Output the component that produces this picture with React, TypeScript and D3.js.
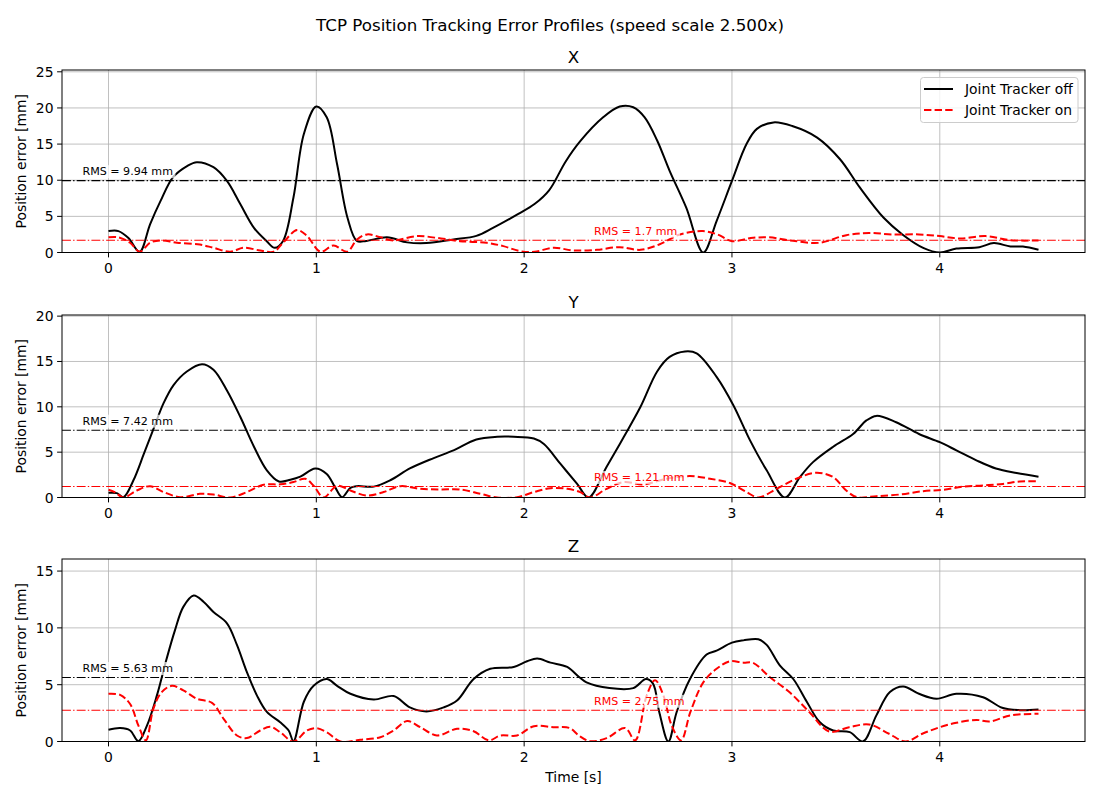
import React from "react";
import * as d3 from "d3";

// ---- data (time [s], error [mm]) ----
const xOffT = [0, 0.048, 0.096, 0.15, 0.2, 0.25, 0.31, 0.38, 0.425, 0.505, 0.57, 0.634, 0.7, 0.76, 0.8, 0.84, 0.89, 0.94, 1.0, 1.05, 1.1, 1.15, 1.195, 1.24, 1.34, 1.437, 1.53, 1.66, 1.77, 1.85, 1.97, 2.05, 2.12, 2.2, 2.27, 2.38, 2.46, 2.525, 2.58, 2.64, 2.7, 2.78, 2.862, 2.926, 3.0, 3.07, 3.12, 3.2, 3.29, 3.41, 3.52, 3.615, 3.73, 3.82, 3.92, 4.0, 4.08, 4.19, 4.26, 4.34, 4.4, 4.475];
const xOffV = [2.96, 2.96, 2.0, 0.1, 3.9, 7.1, 10.4, 12.0, 12.5, 11.8, 9.9, 6.7, 3.4, 1.6, 0.65, 1.6, 7.6, 16.4, 20.2, 18.7, 12.2, 4.8, 1.6, 1.6, 2.1, 1.4, 1.3, 1.8, 2.3, 3.4, 5.3, 6.7, 8.6, 12.6, 15.4, 18.7, 20.2, 20.1, 18.7, 15.5, 11.3, 6.2, 0, 4.35, 9.9, 15.0, 17.1, 18.0, 17.5, 15.9, 12.9, 9.0, 4.8, 2.5, 0.65, 0, 0.55, 0.74, 1.3, 0.83, 0.83, 0.37];
const xOnT = [0, 0.048, 0.104, 0.15, 0.2, 0.25, 0.33, 0.44, 0.505, 0.585, 0.65, 0.73, 0.795, 0.84, 0.907, 0.955, 1.02, 1.083, 1.148, 1.196, 1.244, 1.31, 1.37, 1.485, 1.6, 1.69, 1.82, 1.9, 1.98, 2.05, 2.14, 2.24, 2.35, 2.46, 2.56, 2.65, 2.75, 2.86, 2.93, 3.0, 3.09, 3.18, 3.28, 3.42, 3.55, 3.66, 3.77, 3.9, 4.0, 4.1, 4.22, 4.34, 4.475];
const xOnV = [2.1, 2.1, 1.35, 0.1, 1.35, 1.67, 1.35, 1.1, 0.65, 0.1, 0.65, 0.28, 0.1, 1.35, 3.1, 2.3, 0.1, 0.97, 0.1, 1.8, 2.5, 2.1, 1.67, 2.27, 1.94, 1.57, 1.34, 0.88, 0.19, 0.1, 0.65, 0.28, 0.37, 0.74, 0.37, 1.1, 2.5, 2.96, 2.5, 1.57, 2.0, 2.1, 1.67, 1.34, 2.4, 2.7, 2.5, 2.5, 2.27, 1.94, 2.27, 1.7, 1.67];

const yOffT = [0, 0.04, 0.072, 0.12, 0.17, 0.217, 0.265, 0.313, 0.377, 0.45, 0.505, 0.57, 0.634, 0.7, 0.762, 0.82, 0.875, 0.923, 0.995, 1.05, 1.09, 1.124, 1.164, 1.196, 1.276, 1.356, 1.45, 1.565, 1.66, 1.77, 1.87, 1.95, 2.047, 2.095, 2.175, 2.255, 2.31, 2.397, 2.48, 2.56, 2.64, 2.7, 2.774, 2.83, 2.926, 3.006, 3.087, 3.167, 3.255, 3.327, 3.39, 3.487, 3.583, 3.647, 3.695, 3.79, 3.9, 4.0, 4.08, 4.176, 4.27, 4.37, 4.475];
const yOffV = [0.52, 0.48, 0.04, 1.9, 4.8, 7.6, 10.4, 12.4, 13.9, 14.7, 14.1, 11.8, 8.9, 5.6, 3.0, 1.77, 1.96, 2.3, 3.2, 2.6, 1.14, 0.04, 1.07, 1.25, 1.2, 1.9, 3.2, 4.35, 5.2, 6.4, 6.7, 6.7, 6.5, 5.9, 3.7, 1.5, 0, 3.4, 6.7, 10.0, 13.9, 15.5, 16.1, 15.9, 13.3, 10.2, 6.3, 3.0, 0, 2.25, 3.9, 5.6, 7.0, 8.5, 9.0, 8.3, 7.0, 6.1, 5.2, 4.1, 3.2, 2.7, 2.3];
const yOnT = [0, 0.03, 0.072, 0.136, 0.2, 0.265, 0.345, 0.44, 0.505, 0.586, 0.666, 0.746, 0.827, 0.89, 0.947, 0.987, 1.035, 1.1, 1.164, 1.244, 1.324, 1.404, 1.5, 1.6, 1.69, 1.79, 1.87, 1.966, 2.047, 2.127, 2.207, 2.27, 2.317, 2.397, 2.477, 2.574, 2.686, 2.798, 2.894, 2.99, 3.07, 3.127, 3.215, 3.31, 3.407, 3.487, 3.55, 3.6, 3.695, 3.808, 3.92, 4.016, 4.11, 4.208, 4.304, 4.385, 4.475];
const yOnV = [0.85, 0.6, 0, 0.77, 1.25, 0.6, 0.04, 0.4, 0.33, 0, 0.6, 1.4, 1.45, 1.7, 2.07, 1.3, 0, 1.3, 0.77, 0.22, 0.6, 1.25, 0.96, 0.89, 0.89, 0.4, 0, 0.04, 0.6, 1.03, 0.96, 0.6, 0, 0.96, 1.7, 1.45, 2.07, 2.36, 2.07, 1.6, 0.6, 0, 0.96, 2.07, 2.73, 2.25, 0.77, 0.04, 0.15, 0.33, 0.7, 0.85, 1.2, 1.33, 1.5, 1.77, 1.8];

const zOffT = [0, 0.056, 0.104, 0.144, 0.185, 0.233, 0.28, 0.32, 0.36, 0.41, 0.457, 0.505, 0.57, 0.618, 0.666, 0.714, 0.762, 0.826, 0.867, 0.89, 0.94, 0.987, 1.05, 1.1, 1.164, 1.276, 1.372, 1.45, 1.53, 1.613, 1.677, 1.757, 1.837, 1.95, 2.014, 2.063, 2.127, 2.207, 2.263, 2.3, 2.41, 2.525, 2.586, 2.62, 2.65, 2.694, 2.734, 2.798, 2.878, 2.926, 3.0, 3.055, 3.127, 3.167, 3.23, 3.295, 3.36, 3.423, 3.487, 3.567, 3.63, 3.695, 3.76, 3.824, 3.9, 3.984, 4.08, 4.208, 4.3, 4.385, 4.475];
const zOffV = [1.03, 1.18, 0.97, 0.03, 1.4, 4.06, 7.3, 9.8, 11.85, 12.85, 12.3, 11.4, 10.4, 8.5, 6.1, 4.06, 2.6, 1.7, 0.97, 0.03, 3.5, 4.9, 5.5, 4.9, 4.2, 3.7, 4.0, 3.0, 2.65, 3.0, 3.6, 5.5, 6.4, 6.56, 7.06, 7.3, 6.94, 6.56, 5.7, 5.2, 4.7, 4.7, 5.5, 5.1, 2.6, 0, 2.6, 5.5, 7.65, 8.0, 8.7, 8.9, 9.0, 8.5, 6.7, 5.5, 3.5, 1.7, 0.97, 0.82, 0, 2.3, 4.35, 4.85, 4.2, 3.76, 4.2, 3.9, 2.97, 2.76, 2.82];
const zOnT = [0, 0.056, 0.104, 0.144, 0.18, 0.216, 0.256, 0.305, 0.36, 0.425, 0.498, 0.554, 0.618, 0.666, 0.73, 0.778, 0.826, 0.89, 0.955, 1.0, 1.05, 1.116, 1.212, 1.308, 1.372, 1.437, 1.5, 1.58, 1.677, 1.757, 1.83, 1.886, 1.966, 2.047, 2.14, 2.22, 2.263, 2.317, 2.397, 2.486, 2.534, 2.59, 2.63, 2.67, 2.71, 2.755, 2.8, 2.862, 2.926, 2.99, 3.055, 3.1, 3.18, 3.276, 3.372, 3.468, 3.564, 3.66, 3.756, 3.836, 3.916, 4.0, 4.08, 4.176, 4.24, 4.34, 4.475];
const zOnV = [4.2, 4.1, 3.3, 1.4, 0.1, 2.9, 4.35, 4.9, 4.5, 3.76, 3.4, 2.0, 0.53, 0.3, 0.97, 1.3, 0.82, 0, 0.97, 1.18, 0.82, 0, 0.15, 0.38, 0.97, 1.8, 1.26, 0.53, 1.12, 0.9, 0.1, 0.53, 0.53, 1.35, 1.26, 1.18, 0.53, 0.03, 0.3, 1.18, 0.1, 4.06, 5.4, 4.06, 1.4, 0.1, 2.6, 5.2, 6.4, 7.06, 6.94, 6.94, 5.7, 4.35, 2.6, 0.88, 1.26, 1.5, 0.68, 0, 0.68, 1.26, 1.65, 1.9, 1.76, 2.3, 2.44];

const axisNames = ["X", "Y", "Z"];
const rmsOff = [9.94, 7.42, 5.63];
const rmsOn = [1.7, 1.21, 2.75];
const timeTicks = [0, 1, 2, 3, 4];
const errTicks = [
  [0, 5, 10, 15, 20, 25],
  [0, 5, 10, 15, 20],
  [0, 5, 10, 15],
];
const seriesNames = ["Joint Tracker off", "Joint Tracker on"];

const panels = [
  { off: [xOffT, xOffV], on: [xOnT, xOnV] },
  { off: [yOffT, yOffV], on: [yOnT, yOnV] },
  { off: [zOffT, zOffV], on: [zOnT, zOnV] },
];

// ---- layout ----
const W = 1100;
const H = 800;
const LEFT = 62;
const RIGHT = 1085;
const TOPS = [70, 315, 559];
const PH = 182.5;
const FONT = "DejaVu Sans, sans-serif";
const DASH = "7.4,3.2";
const DASHDOT = "8.9,2.2,1.4,2.2";

const Panel = ({ idx, x }) => {
  const top = TOPS[idx];
  const bottom = top + PH;
  const { off, on } = panels[idx];
  const yMax = d3.max(off[1]) * 1.25;
  const y = d3.scaleLinear().domain([0, yMax]).range([bottom, top]);

  const mkLine = (t) =>
    d3
      .line<number>()
      .x((_, i) => x(t[i]))
      .y((d) => y(d))
      .curve(d3.curveCatmullRom.alpha(0.5));

  const clipId = `clip-${idx}`;
  const labelOffX = LEFT + 0.02 * (RIGHT - LEFT);
  const labelOnX = LEFT + 0.52 * (RIGHT - LEFT);

  const rmsLabel = (val, xPos, color) => {
    const txt = `RMS = ${val} mm`;
    const yb = y(val) - 5.5;
    const w = txt.length * 7.0;
    return (
      <g>
        <rect x={xPos - 2} y={yb - 10} width={w + 4} height={13} fill="white" opacity={0.7} />
        <text x={xPos} y={yb} fontSize={11.1} fill={color} fontFamily={FONT}>
          {txt}
        </text>
      </g>
    );
  };

  return (
    <g>
      <defs>
        <clipPath id={clipId}>
          <rect x={LEFT} y={top} width={RIGHT - LEFT} height={PH} />
        </clipPath>
      </defs>
      {/* grid */}
      {timeTicks.map((t) => (
        <line key={"gx" + t} x1={x(t)} x2={x(t)} y1={top} y2={bottom} stroke="#b0b0b0" strokeWidth={0.8} />
      ))}
      {errTicks[idx].map((v) => (
        <line key={"gy" + v} x1={LEFT} x2={RIGHT} y1={y(v)} y2={y(v)} stroke="#b0b0b0" strokeWidth={0.8} />
      ))}
      <g clipPath={`url(#${clipId})`}>
        <path d={mkLine(off[0])(off[1])} fill="none" stroke="#000" strokeWidth={2} strokeLinejoin="round" />
        <path d={mkLine(on[0])(on[1])} fill="none" stroke="#ff0000" strokeWidth={2} strokeDasharray={DASH} />
        <line x1={LEFT} x2={RIGHT} y1={y(rmsOff[idx])} y2={y(rmsOff[idx])} stroke="#000" strokeWidth={1.1} strokeDasharray={DASHDOT} />
        <line x1={LEFT} x2={RIGHT} y1={y(rmsOn[idx])} y2={y(rmsOn[idx])} stroke="#ff0000" strokeWidth={1.1} strokeDasharray={DASHDOT} />
      </g>
      {rmsLabel(rmsOff[idx], labelOffX, "#000")}
      {rmsLabel(rmsOn[idx], labelOnX, "#ff0000")}
      {/* frame */}
      <rect x={LEFT} y={top} width={RIGHT - LEFT} height={PH} fill="none" stroke="#000" strokeWidth={1} />
      {/* ticks */}
      {timeTicks.map((t) => (
        <g key={"tx" + t}>
          <line x1={x(t)} x2={x(t)} y1={bottom} y2={bottom + 4.9} stroke="#000" strokeWidth={1} />
          <text x={x(t)} y={bottom + 20} textAnchor="middle" fontSize={13.9} fontFamily={FONT}>
            {t}
          </text>
        </g>
      ))}
      {errTicks[idx].map((v) => (
        <g key={"ty" + v}>
          <line x1={LEFT - 4.9} x2={LEFT} y1={y(v)} y2={y(v)} stroke="#000" strokeWidth={1} />
          <text x={LEFT - 8.5} y={y(v) + 5} textAnchor="end" fontSize={13.9} fontFamily={FONT}>
            {v}
          </text>
        </g>
      ))}
      <text x={(LEFT + RIGHT) / 2} y={top - 7} textAnchor="middle" fontSize={16.7} fontFamily={FONT}>
        {axisNames[idx]}
      </text>
      <text
        transform={`translate(26,${(top + bottom) / 2}) rotate(-90)`}
        textAnchor="middle"
        fontSize={13.9}
        fontFamily={FONT}
      >
        Position error [mm]
      </text>
      {idx === 0 && (
        <g>
          <rect x={920.5} y={77.5} width={157.5} height={45} rx={3} fill="white" fillOpacity={0.8} stroke="#cccccc" strokeWidth={1} />
          <line x1={924} x2={953} y1={89} y2={89} stroke="#000" strokeWidth={2} />
          <text x={965} y={89} dy="0.36em" fontSize={13.9} fontFamily={FONT}>
            {seriesNames[0]}
          </text>
          <line x1={924} x2={953} y1={110} y2={110} stroke="#ff0000" strokeWidth={2} strokeDasharray={DASH} />
          <text x={965} y={110} dy="0.36em" fontSize={13.9} fontFamily={FONT}>
            {seriesNames[1]}
          </text>
        </g>
      )}
    </g>
  );
};

export default function App() {
  const tMax = d3.max([xOffT, xOnT, yOffT, yOnT, zOffT, zOnT].flat());
  const x = d3.scaleLinear().domain([-0.05 * tMax, 1.05 * tMax]).range([LEFT, RIGHT]);

  return (
    <svg
      width={W}
      height={H}
      style={{ position: "absolute", left: 0, top: 0, background: "white" }}
    >
      <rect width={W} height={H} fill="white" />
      <text x={W / 2} y={30.5} textAnchor="middle" fontSize={16.7} fontFamily={FONT}>
        TCP Position Tracking Error Profiles (speed scale 2.500x)
      </text>
      {panels.map((_, i) => (
        <Panel key={i} idx={i} x={x} />
      ))}
      <text x={(LEFT + RIGHT) / 2} y={782} textAnchor="middle" fontSize={13.9} fontFamily={FONT}>
        Time [s]
      </text>
    </svg>
  );
}
